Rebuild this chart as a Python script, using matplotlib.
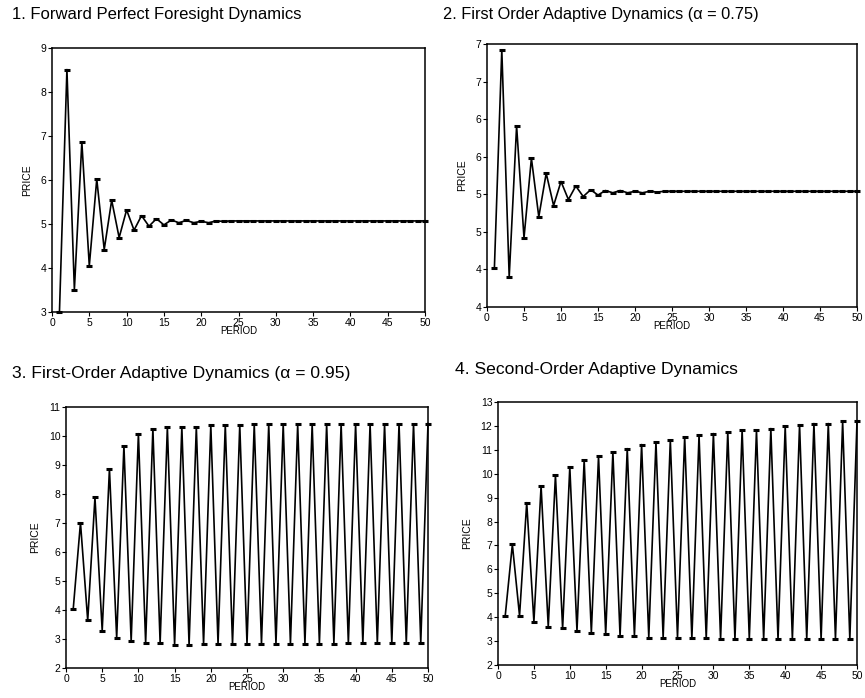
import matplotlib
matplotlib.use("Agg")
import matplotlib.pyplot as plt

plt.rcParams['font.family'] = ['Liberation Sans', 'DejaVu Sans']

# Data (price per period)
periods = list(range(1, 51))

forward_price = [3.00, 8.51, 3.51, 6.86, 4.05, 6.02, 4.42, 5.54, 4.69, 5.32,
                 4.86, 5.19, 4.95, 5.12, 4.98, 5.09, 5.03, 5.08, 5.03, 5.06,
                 5.03, 5.07, 5.06, 5.07, 5.07, 5.07, 5.07, 5.07, 5.07, 5.07,
                 5.07, 5.07, 5.07, 5.07, 5.07, 5.07, 5.07, 5.07, 5.07, 5.07,
                 5.07, 5.07, 5.07, 5.07, 5.07, 5.07, 5.07, 5.07, 5.07, 5.07]

adaptive75_price = [4.02, 6.92, 3.90, 5.91, 4.42, 5.48, 4.70, 5.28, 4.85, 5.17,
                    4.93, 5.11, 4.97, 5.06, 4.99, 5.05, 5.02, 5.05, 5.02, 5.04,
                    5.02, 5.04, 5.03, 5.04, 5.04, 5.04, 5.04, 5.04, 5.04, 5.04,
                    5.04, 5.04, 5.04, 5.04, 5.04, 5.04, 5.04, 5.04, 5.04, 5.04,
                    5.04, 5.04, 5.04, 5.04, 5.04, 5.04, 5.04, 5.04, 5.04, 5.04]

adaptive95_price = [4.04, 7.01, 3.64, 7.88, 3.29, 8.87, 3.03, 9.66, 2.92, 10.08,
                    2.86, 10.25, 2.86, 10.30, 2.80, 10.31, 2.80, 10.31, 2.83, 10.38,
                    2.83, 10.38, 2.83, 10.38, 2.84, 10.40, 2.84, 10.40, 2.84, 10.40,
                    2.84, 10.40, 2.84, 10.40, 2.84, 10.41, 2.84, 10.41, 2.85, 10.41,
                    2.85, 10.41, 2.85, 10.41, 2.85, 10.42, 2.86, 10.42, 2.87, 10.43]

second_order_price = [4.04, 7.04, 4.06, 8.79, 3.81, 9.48, 3.60, 9.94, 3.53, 10.28,
                      3.43, 10.56, 3.35, 10.73, 3.29, 10.91, 3.21, 11.05, 3.22, 11.22,
                      3.15, 11.33, 3.15, 11.40, 3.15, 11.54, 3.11, 11.61, 3.11, 11.68,
                      3.08, 11.75, 3.08, 11.82, 3.08, 11.82, 3.08, 11.89, 3.08, 11.98,
                      3.08, 12.05, 3.08, 12.10, 3.08, 12.10, 3.08, 12.19, 3.08, 12.19]

titles = ["1. Forward Perfect Foresight Dynamics",
          "2. First Order Adaptive Dynamics (\u03b1 = 0.75)",
          "3. First-Order Adaptive Dynamics (\u03b1 = 0.95)",
          "4. Second-Order Adaptive Dynamics"]

W, H = 865, 698


def box(x0, y0, x1, y1):
    # pixel box (top-left origin) -> figure fraction rect
    return [x0 / W, (H - y1) / H, (x1 - x0) / W, (y1 - y0) / H]


fig = plt.figure(figsize=(8.65, 6.98), dpi=100)

panels = [
    (box(52, 48, 425, 312), forward_price, (3, 9)),
    (box(487, 44, 857, 307), adaptive75_price, (3.5, 7)),
    (box(66, 407, 428, 668), adaptive95_price, (2, 11)),
    (box(498, 402, 857, 665), second_order_price, (2, 13)),
]

for rect, prices, ylim in panels:
    ax = fig.add_axes(rect)
    ax.plot(periods, prices, color='black', lw=1.2, marker='_', ms=5, mew=2.2,
            clip_on=False)
    ax.set_xlim(0, 50)
    ax.set_ylim(*ylim)
    ax.set_xticks(range(0, 51, 5))
    ax.tick_params(labelsize=7.5, length=3, width=0.8, pad=1)
    ax.set_xlabel("PERIOD", fontsize=7, labelpad=-1)
    ax.set_ylabel("PRICE", fontsize=7.5, labelpad=6)
    for s in ax.spines.values():
        s.set_linewidth(1.1)

axes = fig.axes
# panel 2 shows half-unit ticks rounded to whole numbers
half_ticks = [3.5, 4.0, 4.5, 5.0, 5.5, 6.0, 6.5, 7.0]
axes[1].set_yticks(half_ticks)
axes[1].set_yticklabels(["4", "4", "5", "5", "6", "6", "7", "7"])
axes[0].set_yticks(range(3, 10))
axes[2].set_yticks(range(2, 12))
axes[3].set_yticks(range(2, 14))

fig.text(12 / W, 1 - 15 / H, titles[0], fontsize=12, va='center', ha='left')
fig.text(443 / W, 1 - 15 / H, titles[1], fontsize=11.8, va='center', ha='left')
fig.text(12 / W, 1 - 373 / H, titles[2], fontsize=12.6, va='center', ha='left')
fig.text(455 / W, 1 - 369 / H, titles[3], fontsize=12.6, va='center', ha='left')

fig.savefig("out.png", dpi=100)
